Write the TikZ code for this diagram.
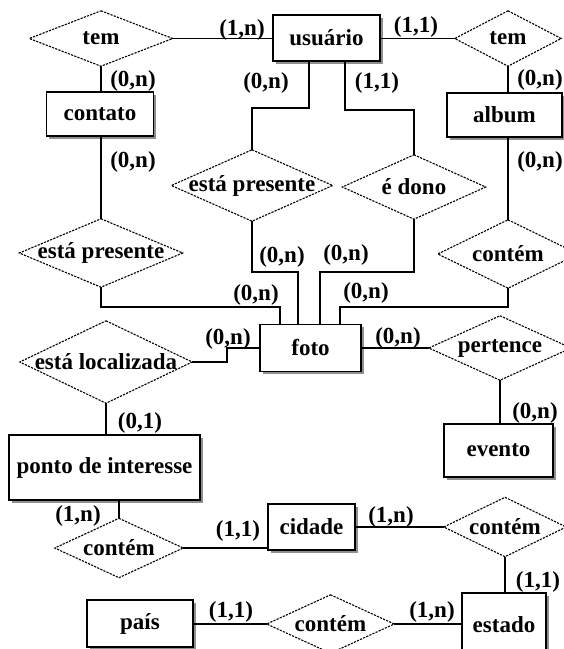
\documentclass[tikz,border=0pt]{standalone}
\usepackage{fontspec}
\setmainfont{Liberation Serif}
\usetikzlibrary{shadows}
\tikzset{
  entity/.style={draw=black, line width=1.4pt, fill=white, rectangle, inner sep=0pt,
    font=\fontsize{23}{27}\selectfont\bfseries,
    drop shadow={shadow xshift=2.5pt, shadow yshift=-2.5pt, fill=black!55, opacity=0.8}},
  reltxt/.style={rectangle, inner sep=0pt, font=\fontsize{23}{27}\selectfont\bfseries},
  reldash/.style={draw=black, line width=1.1pt, dash pattern=on 2.2pt off 1.2pt, fill=white},
  conn/.style={draw=black, line width=1.3pt},
  card/.style={inner sep=0pt, font=\fontsize{23}{27}\selectfont\bfseries}
}
\newcommand\relbox[5]{%
  \node[reltxt, minimum width=#4pt, minimum height=#5pt] (#1) at (#2) {};
  \path[reldash] (#1.north) -- (#1.east) -- (#1.south) -- (#1.west) -- cycle;
  \node[reltxt] (#1-t) at (#1.center) {#3};
}
\begin{document}
\begin{tikzpicture}[x=1pt, y=-1pt]
\useasboundingbox (0,0) rectangle (564,649);
\clip (0,0) rectangle (564,649);
\fill[white] (0,0) rectangle (564,649);

% relationships
\relbox{tem1}{101,38.5}{tem}{143}{55}
\relbox{tem2}{508,38.5}{tem}{106}{55}
\relbox{epm}{252,185.5}{está presente}{161}{71}
\relbox{edono}{414,187}{é dono}{143}{64}
\relbox{epl}{101,253}{está presente}{163}{68}
\relbox{calb}{508,254}{contém}{140}{68}
\relbox{pert}{500,348}{pertence}{142}{64}
\relbox{eloc}{106,362}{está localizada}{172}{82}
\relbox{cpon}{119,548}{contém}{128}{59}
\relbox{cest}{505,527}{contém}{122}{59}
\relbox{cpai}{330.5,624}{contém}{127}{58}

% entities
\node[entity, minimum width=107pt, minimum height=46pt] (usuario) at (326.5,38) {usuário};
\node[entity, minimum width=107pt, minimum height=44pt] (contato) at (100,114) {contato};
\node[entity, minimum width=115pt, minimum height=44pt] (album) at (504.5,115) {album};
\node[entity, minimum width=101pt, minimum height=47pt] (foto) at (310.5,348) {foto};
\node[entity, minimum width=191pt, minimum height=65pt] (ponto) at (104.5,467.5) {ponto de interesse};
\node[entity, minimum width=109pt, minimum height=53pt] (evento) at (498.5,450.5) {evento};
\node[entity, minimum width=87pt, minimum height=46pt] (cidade) at (311.5,527) {cidade};
\node[entity, minimum width=106pt, minimum height=47pt] (pais) at (140,623.5) {país};
\node[entity, minimum width=84pt, minimum height=64pt] (estado) at (504,625) {estado};

% connectors
\draw[conn] (tem1.east) -- (tem1.east -| usuario.west);
\draw[conn] (tem2.west -| usuario.east) -- (tem2.west);
\draw[conn] (tem1.south) -- (tem1.south |- contato.north);
\draw[conn] (tem2.south) -- (tem2.south |- album.north);
\draw[conn] ([xshift=-17.5pt]usuario.south) |- (252,108) -- (epm.north);
\draw[conn] ([xshift=18.5pt]usuario.south) |- (414,110) -- (edono.north);
\draw[conn] (epl.north |- contato.south) -- (epl.north);
\draw[conn] (calb.north |- album.south) -- (calb.north);
\draw[conn] (epm.south) |- (298,272) -- ([xshift=-12.5pt]foto.north);
\draw[conn] (edono.south) |- (320,272) -- ([xshift=9.5pt]foto.north);
\draw[conn] (epl.south) |- (280,307) -- ([xshift=-30.5pt]foto.north);
\draw[conn] (calb.south) |- (340,307) -- ([xshift=29.5pt]foto.north);
\draw[conn] (eloc.east) -| (227,348) -- (foto.west);
\draw[conn] (foto.east) -- (pert.west);
\draw[conn] (pert.south) -- (pert.south |- evento.north);
\draw[conn] (eloc.south) -- (eloc.south |- ponto.north);
\draw[conn] (cpon.north |- ponto.south) -- (cpon.north);
\draw[conn] (cpon.east) -- (cpon.east -| cidade.west);
\draw[conn] (cidade.east) -- (cidade.east -| cest.west);
\draw[conn] (cest.south) -- (cest.south |- estado.north);
\draw[conn] (cpai.west -| pais.east) -- (cpai.west);
\draw[conn] (cpai.east) -- (cpai.east -| estado.west);

% cardinalities
\node[card] (l1) at (242,30) {(1,n)};
\node[card] (l2) at (416,27) {(1,1)};
\node[card] (l3) at (133,81) {(0,n)};
\node[card] (l4) at (540,80) {(0,n)};
\node[card] (l5) at (266,83) {(0,n)};
\node[card] (l6) at (377,83) {(1,1)};
\node[card] (l7) at (133,162) {(0,n)};
\node[card] (l8) at (540,162) {(0,n)};
\node[card] (l9) at (282,257) {(0,n)};
\node[card] (l10) at (346,255) {(0,n)};
\node[card] (l11) at (256,295) {(0,n)};
\node[card] (l12) at (366,293) {(0,n)};
\node[card] (l13) at (228,339) {(0,n)};
\node[card] (l14) at (398,338) {(0,n)};
\node[card] (l15) at (140,423) {(0,1)};
\node[card] (l16) at (535,413) {(0,n)};
\node[card] (l17) at (78,516) {(1,n)};
\node[card] (l18) at (238,531) {(1,1)};
\node[card] (l19) at (391,517) {(1,n)};
\node[card] (l20) at (538,582) {(1,1)};
\node[card] (l21) at (231,612) {(1,1)};
\node[card] (l22) at (432,612) {(1,n)};
\end{tikzpicture}
\end{document}
